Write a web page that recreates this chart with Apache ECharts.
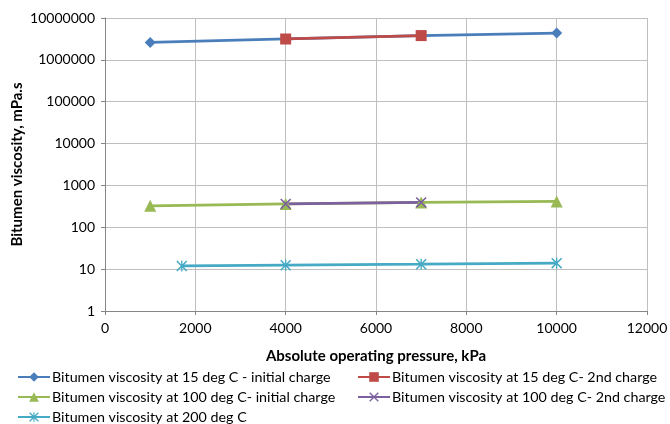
<!DOCTYPE html>
<html>
<head>
<meta charset="utf-8">
<script src="https://cdn.jsdelivr.net/npm/echarts@6/dist/echarts.min.js"></script>
<style>
  html, body { margin: 0; padding: 0; background: #fff; }
  #chart { width: 670px; height: 424px; }
</style>
</head>
<body>
<div id="chart"></div>
<script>
// Pressure (kPa) and viscosity (mPa.s) readings for each test set
const pressure15Initial = [1000, 4000, 7000, 10000];
const visc15Initial = [2600000, 3150000, 3800000, 4380000];

const pressure15Second = [4000, 7000];
const visc15Second = [3150000, 3800000];

const pressure100Initial = [1000, 4000, 7000, 10000];
const visc100Initial = [326, 362, 392, 415];

const pressure100Second = [4000, 7000];
const visc100Second = [362, 392];

const pressure200 = [1700, 4000, 7000, 10000];
const visc200 = [11.9, 12.4, 13.1, 13.9];

const seriesNames = [
  'Bitumen viscosity at 15 deg C - initial charge',
  'Bitumen viscosity at 15 deg C- 2nd charge',
  'Bitumen viscosity at 100 deg C- initial charge',
  'Bitumen viscosity at 100 deg C- 2nd charge',
  'Bitumen viscosity at 200 deg C'
];

const xTicks = [0, 2000, 4000, 6000, 8000, 10000, 12000];

const pairs = (xs, ys) => xs.map((x, i) => [x, ys[i]]);

const FONT = 'Lato, "Open Sans", sans-serif';

const crossPath = 'path://M0,1 L1,0 L5,4 L9,0 L10,1 L6,5 L10,9 L9,10 L5,6 L1,10 L0,9 L4,5 Z';
const starPath = 'path://M0,1 L1,0 L5,4 L9,0 L10,1 L6,5 L10,9 L9,10 L5,6 L1,10 L0,9 L4,5 Z M4.4,0 L5.6,0 L5.6,10 L4.4,10 Z';

function lineSeries(name, data, color, symbol, size) {
  return {
    name: name,
    type: 'line',
    data: data,
    symbol: symbol,
    symbolSize: size,
    showAllSymbol: true,
    lineStyle: { color: color, width: 2.75 },
    itemStyle: { color: color, borderWidth: 0 },
    emphasis: { disabled: true },
    animation: false
  };
}

// One legend entry per slot: two columns, three rows
const legendSlots = [
  { name: seriesNames[0], left: 17, top: 369 },
  { name: seriesNames[1], left: 357, top: 369 },
  { name: seriesNames[2], left: 17, top: 389 },
  { name: seriesNames[3], left: 357, top: 389 },
  { name: seriesNames[4], left: 17, top: 409 }
];

const legendText = { fontFamily: FONT, fontSize: 14.3, color: '#000', lineHeight: 16, padding: [0, 0, 0, -3] };

const chart = echarts.init(document.getElementById('chart'), null, { renderer: 'canvas' });

chart.setOption({
  backgroundColor: '#ffffff',
  textStyle: { fontFamily: FONT },
  grid: { left: 105, right: 23, top: 18, bottom: 113, containLabel: false, outerBoundsMode: 'none' },
  xAxis: {
    type: 'value',
    min: xTicks[0],
    max: xTicks[xTicks.length - 1],
    interval: 2000,
    name: 'Absolute operating pressure, kPa',
    nameLocation: 'middle',
    nameGap: 38,
    nameMoveOverlap: false,
    nameTextStyle: { fontFamily: FONT, fontSize: 15, fontWeight: 'bold', color: '#000' },
    axisLine: { show: true, lineStyle: { color: '#868686', width: 1 } },
    axisTick: { show: true, length: 4, lineStyle: { color: '#868686' } },
    axisLabel: { fontFamily: FONT, fontSize: 14, color: '#000', margin: 10,
      formatter: v => String(v) },
    splitLine: { show: true, lineStyle: { color: '#BFBFBF', width: 1 } }
  },
  yAxis: {
    type: 'log',
    logBase: 10,
    min: 1,
    max: 10000000,
    name: 'Bitumen viscosity, mPa.s',
    nameLocation: 'middle',
    nameGap: 80,
    nameMoveOverlap: false,
    nameTextStyle: { fontFamily: FONT, fontSize: 15, fontWeight: 'bold', color: '#000' },
    axisLine: { show: true, lineStyle: { color: '#868686', width: 1 } },
    axisTick: { show: true, length: 4, lineStyle: { color: '#868686' } },
    axisLabel: { fontFamily: FONT, fontSize: 14, color: '#000', margin: 10,
      formatter: v => String(Math.round(v)) },
    splitLine: { show: true, lineStyle: { color: '#BFBFBF', width: 1 } }
  },
  legend: legendSlots.map(s => ({
    left: s.left, top: s.top, orient: 'horizontal', padding: 0,
    itemWidth: 32, itemHeight: 12,
    data: [s.name],
    textStyle: legendText,
    selectedMode: false
  })),
  series: [
    lineSeries(seriesNames[0], pairs(pressure15Initial, visc15Initial), '#4A7EBB', 'diamond', 11),
    lineSeries(seriesNames[1], pairs(pressure15Second, visc15Second), '#BE4B48', 'rect', 11),
    lineSeries(seriesNames[2], pairs(pressure100Initial, visc100Initial), '#98B954', 'triangle', 12),
    lineSeries(seriesNames[3], pairs(pressure100Second, visc100Second), '#7D60A0', crossPath, 11),
    lineSeries(seriesNames[4], pairs(pressure200, visc200), '#46AAC5', starPath, 11)
  ]
});
</script>
</body>
</html>
